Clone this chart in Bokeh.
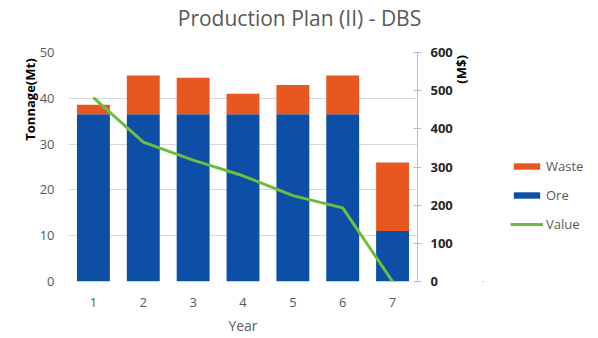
from bokeh.plotting import figure
from bokeh.models import Range1d, LinearAxis, Legend, LegendItem, FixedTicker, ColumnDataSource
from bokeh.layouts import row
from bokeh.embed import file_html
from bokeh.resources import INLINE
import math

years = [1, 2, 3, 4, 5, 6, 7]
year_labels = ["1", "2", "3", "4", "5", "6", "7"]
ore = [36.5, 36.5, 36.5, 36.5, 36.5, 36.5, 11.0]
waste = [2.1, 8.5, 8.0, 4.5, 6.4, 8.5, 15.0]
value_musd = [482, 365, 318, 277, 225, 193, 0]
title_text = "Production Plan (II) - DBS"
series_names = ["Waste", "Ore", "Value"]

FONT = "Open Sans"
ORANGE = "#E8571F"
BLUE = "#0D4FA6"
GREEN = "#6CBE3C"

p = figure(frame_width=349, frame_height=229, output_backend="svg", toolbar_location=None, title=None,
           x_range=Range1d(0.5, 7.5), y_range=Range1d(0, 50),
           min_border_left=68, min_border_right=66, min_border_top=52, min_border_bottom=57)
p.extra_y_ranges = {"val": Range1d(0, 600)}
p.outline_line_color = None
p.background_fill_color = "white"


def text_axis(pos_value, text, **kw):
    ax = LinearAxis(ticker=FixedTicker(ticks=[pos_value]), major_label_overrides={pos_value: text}, **kw)
    ax.axis_line_color = None
    ax.major_tick_line_color = None
    ax.minor_tick_line_color = None
    ax.major_tick_in = 0
    ax.major_tick_out = 0
    ax.major_label_text_font = FONT
    return ax


src = ColumnDataSource(dict(x=years, ore=ore, waste=waste, value=value_musd))
bars = p.vbar_stack(["ore", "waste"], x="x", width=0.66, source=src,
                    color=[BLUE, ORANGE], line_color=None)
line = p.line("x", "value", source=src, y_range_name="val", line_color=GREEN, line_width=3)

# left axis
la = p.left[0]
la.ticker = FixedTicker(ticks=[0, 10, 20, 30, 40, 50])
la.axis_line_color = None
la.major_tick_line_color = None
la.minor_tick_line_color = None
la.major_label_text_font = FONT
la.major_label_text_font_size = "13px"
la.major_label_text_color = "#595959"
la.major_label_standoff = 8

# x axis
xa = p.below[0]
xa.ticker = FixedTicker(ticks=years)
xa.major_label_overrides = {y: s for y, s in zip(years, year_labels)}
xa.axis_line_color = None
xa.major_tick_line_color = None
xa.minor_tick_line_color = None
xa.major_label_text_font = FONT
xa.major_label_text_font_size = "13px"
xa.major_label_text_color = "#595959"
xa.major_label_standoff = 10
xa.axis_label = "Year"
xa.axis_label_text_font = FONT
xa.axis_label_text_font_size = "14px"
xa.axis_label_text_font_style = "normal"
xa.axis_label_text_color = "#595959"
xa.axis_label_standoff = 6

# title (above the plot, positioned like the reference)
tt = text_axis(5.133, title_text)
tt.major_label_text_font_size = "21px"
tt.major_label_text_color = "#595959"
tt.major_label_standoff = 21
p.add_layout(tt, "above")

# left axis title near the top
lt = text_axis(48.7, "Tonnage(Mt)")
lt.major_label_orientation = math.pi / 2
lt.major_label_text_font_size = "13px"
lt.major_label_text_font_style = "bold"
lt.major_label_text_color = "#000000"
lt.major_label_standoff = 6
p.add_layout(lt, "left")

# right axis
ra = LinearAxis(y_range_name="val", ticker=FixedTicker(ticks=[0, 100, 200, 300, 400, 500, 600]))
ra.axis_line_color = "#BFBFBF"
ra.major_tick_line_color = "#BFBFBF"
ra.major_tick_in = 4
ra.major_tick_out = 4
ra.minor_tick_line_color = None
ra.major_label_text_font = FONT
ra.major_label_text_font_size = "13px"
ra.major_label_text_color = "#262626"
ra.major_label_text_font_style = "bold"
ra.major_label_standoff = 9
p.add_layout(ra, "right")

# right axis title near the top
rt = text_axis(43.2, "(M$)")
rt.major_label_orientation = math.pi / 2
rt.major_label_text_font_size = "13px"
rt.major_label_text_font_style = "bold"
rt.major_label_text_color = "#000000"
rt.major_label_standoff = 6
p.add_layout(rt, "right")

p.xgrid.grid_line_color = None
p.ygrid.grid_line_color = "#D9D9D9"
p.ygrid.ticker = FixedTicker(ticks=[0, 10, 20, 30, 40, 50])

# legend panel to the right of the chart (its renderers share the data but lie outside its view)
q = figure(width=115, height=338, output_backend="svg", toolbar_location=None, title=None,
           x_range=Range1d(100, 101), y_range=Range1d(1000, 1001), x_axis_type=None, y_axis_type=None,
           min_border=0)
q.outline_line_color = None
q.xgrid.visible = False
q.ygrid.visible = False
lw = q.vbar(x="x", top="waste", source=src, width=0.66, color=ORANGE, line_color=None)
lo = q.vbar(x="x", top="ore", source=src, width=0.66, color=BLUE, line_color=None)
lv = q.line("x", "value", source=src, line_color=GREEN, line_width=3)

legend = Legend(items=[LegendItem(label=series_names[0], renderers=[lw]),
                       LegendItem(label=series_names[1], renderers=[lo]),
                       LegendItem(label=series_names[2], renderers=[lv])],
                location=(27, 47), orientation="vertical",
                glyph_width=33, glyph_height=8, label_height=20, spacing=9,
                label_standoff=3, padding=0, margin=0,
                border_line_color=None, background_fill_alpha=0,
                label_text_font=FONT, label_text_font_size="13px", label_text_color="#595959")
q.add_layout(legend, "center")

open("out.html", "w").write(file_html(row(p, q), INLINE))
